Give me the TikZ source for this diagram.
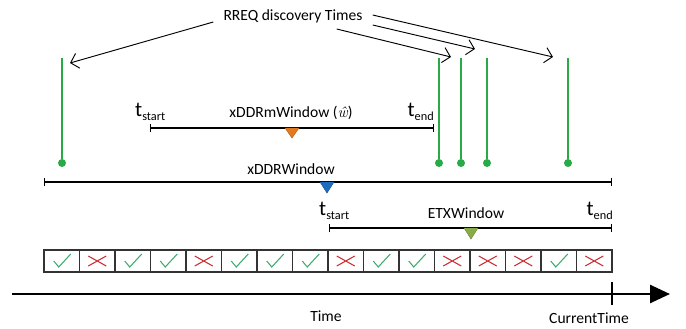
\documentclass[tikz,border=0pt]{standalone}
\usepackage{fontspec}
\setmainfont{Carlito}
\newfontfamily\hatfont{Latin Modern Roman}
\usetikzlibrary{arrows.meta}

\definecolor{dotgreen}{RGB}{40,170,70}
\definecolor{checkgreen}{RGB}{60,170,110}
\definecolor{crossred}{RGB}{200,45,50}
\definecolor{markorange}{RGB}{228,122,32}
\definecolor{markblue}{RGB}{30,108,190}
\definecolor{markolive}{RGB}{138,172,72}

% t with a small index, as in t_start / t_end
\newcommand{\tidx}[1]{{\fontsize{18}{20}\selectfont t}\raisebox{-0.55ex}{\fontsize{10.5}{12}\selectfont #1}}

\tikzset{
  lbl/.style={font=\fontsize{13.3}{15}\selectfont, inner sep=0pt},
  pointer/.style={line width=0.8pt, -{Straight Barb[length=2.2mm, width=4.6mm]}},
  event/.style={draw=dotgreen, line width=1.5pt},
  evdot/.style={circle, fill=dotgreen, inner sep=0pt, minimum size=2.4mm},
  window/.style={line width=1.1pt, {Bar[width=2.6mm]}-{Bar[width=2.6mm]}},
  cell/.style={draw=black!80, line width=1pt, minimum width=10.65mm, minimum height=6.6mm, inner sep=0pt, outer sep=0pt},
  okmark/.pic={\draw[checkgreen, line width=0.9pt] (-8,0) -- (-3,6) -- (9,-7);},
  badmark/.pic={\draw[crossred, line width=0.9pt] (-9,-5) -- (9,5) (-9,5) -- (9,-5);}
}

\begin{document}
\begin{tikzpicture}[x=0.3mm, y=-0.3mm]
        \useasboundingbox (0,0) rectangle (686,328);

        \def\ybox{261}  % row of the result boxes

        % Label on top and the arrows to the discovery times
        \node[lbl] (rreq) at (293,16) {RREQ discovery Times};
        \coordinate (e1) at (70,63);
        \coordinate (e2) at (451,57);
        \coordinate (e3) at (475,49);
        \coordinate (e4) at (553,57);
        \draw[pointer] ([shift={(-10,6)}]rreq.west) -- (e1);
        \draw[pointer] ([shift={(-26,13)}]rreq.east) -- (e2);
        \draw[pointer] ([shift={(10,9)}]rreq.east) -- (e3);
        \draw[pointer] ([shift={(10,-1)}]rreq.east) -- (e4);

        % Discovery times (green lines with dots)
        \coordinate (g1) at (62,58);   \node[evdot] (d1) at (62,163) {};
        \coordinate (g2) at (439,58);  \node[evdot] (d2) at (439,163) {};
        \coordinate (g3) at (461,58);  \node[evdot] (d3) at (461,163) {};
        \coordinate (g4) at (487,58);  \node[evdot] (d4) at (487,163) {};
        \coordinate (g5) at (568,58);  \node[evdot] (d5) at (568,163) {};
        \draw[event] (g1) -- (d1);
        \draw[event] (g2) -- (d2);
        \draw[event] (g3) -- (d3);
        \draw[event] (g4) -- (d4);
        \draw[event] (g5) -- (d5);

        % xDDRmWindow
        \coordinate (m1) at (150,128);
        \coordinate (m2) at (434,128);
        \draw[window] (m1) -- (m2);
        \filldraw[fill=markorange, draw=markorange!80!black] (285,128) -- (299,128) -- (292,138) -- cycle;
        \node[lbl, anchor=base west] (mstart) at (135,116) {\tidx{start}};
        \node[lbl, anchor=base east] (mend) at (434,116) {\tidx{end}};
        \node[lbl] (mlbl) at (291,113) {xDDRmWindow ({\hatfont\itshape ŵ})};

        % xDDRWindow
        \coordinate (w1) at (44,182);
        \coordinate (w2) at (612,182);
        \draw[window] (w1) -- (w2);
        \filldraw[fill=markblue, draw=markblue!80!black] (320,182) -- (334,182) -- (327,193) -- cycle;
        \node[lbl] (wlbl) at (291,169) {xDDRWindow};

        % ETXWindow
        \coordinate (x1) at (329,228);
        \coordinate (x2) at (612,228);
        \draw[window] (x1) -- (x2);
        \filldraw[fill=markolive, draw=markolive!80!black] (464,228) -- (478,228) -- (471,239) -- cycle;
        \node[lbl, anchor=base west] (xstart) at (319,215) {\tidx{start}};
        \node[lbl, anchor=base east] (xend) at (613,215) {\tidx{end}};
        \node[lbl] (xlbl) at (466,213) {ETXWindow};

        % Result boxes
        \node[cell] (c1) at (61.75,\ybox) {};   \pic at (c1) {okmark};
        \node[cell] (c2) at (97.25,\ybox) {};   \pic at (c2) {badmark};
        \node[cell] (c3) at (132.75,\ybox) {};  \pic at (c3) {okmark};
        \node[cell] (c4) at (168.25,\ybox) {};  \pic at (c4) {okmark};
        \node[cell] (c5) at (203.75,\ybox) {};  \pic at (c5) {badmark};
        \node[cell] (c6) at (239.25,\ybox) {};  \pic at (c6) {okmark};
        \node[cell] (c7) at (274.75,\ybox) {};  \pic at (c7) {okmark};
        \node[cell] (c8) at (310.25,\ybox) {};  \pic at (c8) {okmark};
        \node[cell] (c9) at (345.75,\ybox) {};  \pic at (c9) {badmark};
        \node[cell] (c10) at (381.25,\ybox) {}; \pic at (c10) {okmark};
        \node[cell] (c11) at (416.75,\ybox) {}; \pic at (c11) {okmark};
        \node[cell] (c12) at (452.25,\ybox) {}; \pic at (c12) {badmark};
        \node[cell] (c13) at (487.75,\ybox) {}; \pic at (c13) {badmark};
        \node[cell] (c14) at (523.25,\ybox) {}; \pic at (c14) {badmark};
        \node[cell] (c15) at (558.75,\ybox) {}; \pic at (c15) {okmark};
        \node[cell] (c16) at (594.25,\ybox) {}; \pic at (c16) {badmark};

        % Time axis
        \coordinate (t0) at (12,294);
        \coordinate (t1) at (670,294);
        \coordinate (now) at (612,294);
        \draw[line width=2.2pt, -{Triangle[length=6mm, width=5.4mm]}] (t0) -- (t1);
        \draw[line width=1.1pt] ([yshift=3.6mm]now) -- ([yshift=-3.3mm]now);
        \node[lbl] (time) at (326,316) {Time};
        \node[lbl] (cur) at (589,318) {CurrentTime};

\end{tikzpicture}
\end{document}
